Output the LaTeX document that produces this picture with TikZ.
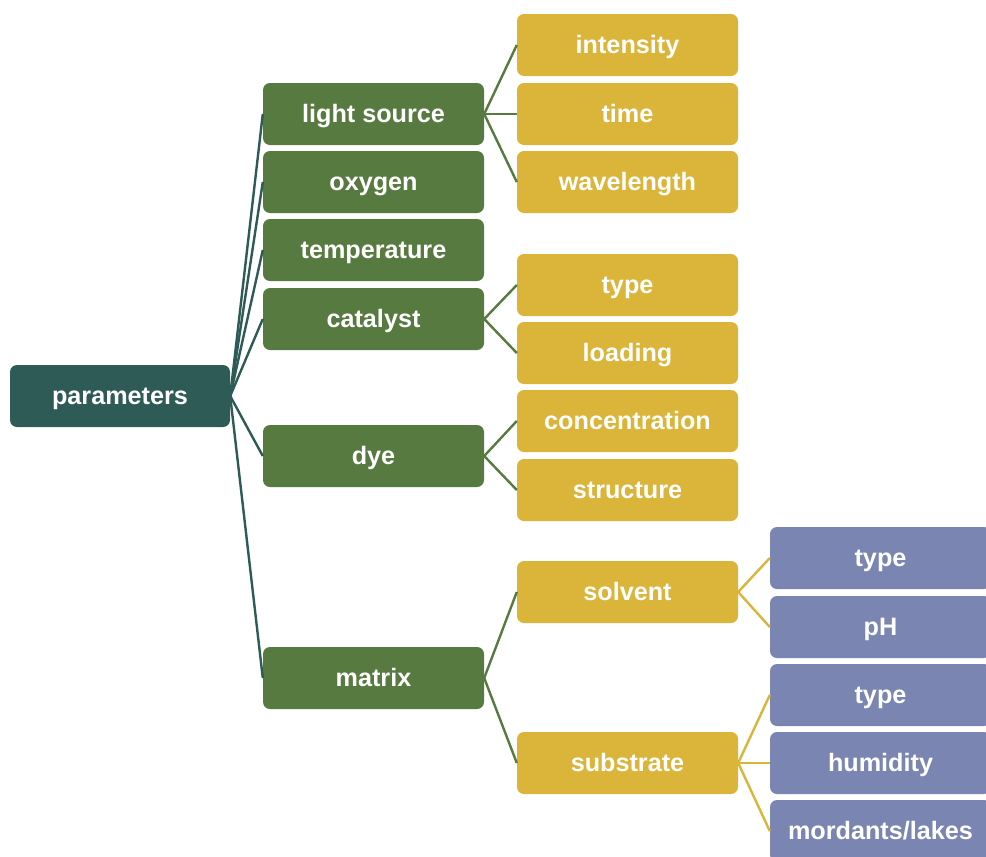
\documentclass[tikz,border=0pt]{standalone}
\usepackage{fontspec}
\setmainfont{Liberation Sans}
\begin{document}
\begin{tikzpicture}[x=1pt,y=-1pt,
  box/.style={rounded corners=7pt, minimum width=221pt, minimum height=62pt, inner sep=0pt,
    text height=22pt, text depth=5pt,
    text=white, font=\fontsize{25.2}{28}\selectfont\bfseries},
  rootbox/.style={box, fill=rootc, minimum width=220pt},
  lvone/.style={box, fill=greenc},
  lvtwo/.style={box, fill=goldc},
  lvthree/.style={box, fill=purplec},
  rootline/.style={draw=rootc, line width=2.4pt},
  greenline/.style={draw=greenc, line width=2.4pt},
  goldline/.style={draw=goldc, line width=2.4pt}]
\definecolor{rootc}{HTML}{2E5B55}
\definecolor{greenc}{HTML}{577A40}
\definecolor{goldc}{HTML}{DBB43A}
\definecolor{purplec}{HTML}{7A85B2}
\clip (0,0) rectangle (986,857);
\fill[white] (0,0) rectangle (986,857);

\node[rootbox] (root) at (120,396) {parameters};

\node[lvone] (ls) at (373.5,114) {light source};
\node[lvone] (ox) at (373.5,182) {oxygen};
\node[lvone] (te) at (373.5,250) {temperature};
\node[lvone] (ca) at (373.5,319) {catalyst};
\node[lvone] (dy) at (373.5,456) {dye};
\node[lvone] (ma) at (373.5,678) {matrix};

\node[lvtwo] (in) at (627.5,45) {intensity};
\node[lvtwo] (ti) at (627.5,114) {time};
\node[lvtwo] (wa) at (627.5,182) {wavelength};
\node[lvtwo] (ty) at (627.5,285) {type};
\node[lvtwo] (lo) at (627.5,353) {loading};
\node[lvtwo] (co) at (627.5,421) {concentration};
\node[lvtwo] (st) at (627.5,490) {structure};
\node[lvtwo] (so) at (627.5,592) {solvent};
\node[lvtwo] (su) at (627.5,763) {substrate};

\node[lvthree] (sty) at (880.5,558) {type};
\node[lvthree] (sph) at (880.5,627) {pH};
\node[lvthree] (uty) at (880.5,695) {type};
\node[lvthree] (uhu) at (880.5,763) {humidity};
\node[lvthree] (umo) at (880.5,831) {mordants/lakes};

\foreach \c in {ls,ox,te,ca,dy,ma}
  \draw[rootline] (root.east) -- (\c.west);
\foreach \c in {in,ti,wa}
  \draw[greenline] (ls.east) -- (\c.west);
\foreach \c in {ty,lo}
  \draw[greenline] (ca.east) -- (\c.west);
\foreach \c in {co,st}
  \draw[greenline] (dy.east) -- (\c.west);
\foreach \c in {so,su}
  \draw[greenline] (ma.east) -- (\c.west);
\foreach \c in {sty,sph}
  \draw[goldline] (so.east) -- (\c.west);
\foreach \c in {uty,uhu,umo}
  \draw[goldline] (su.east) -- (\c.west);
\end{tikzpicture}
\end{document}
